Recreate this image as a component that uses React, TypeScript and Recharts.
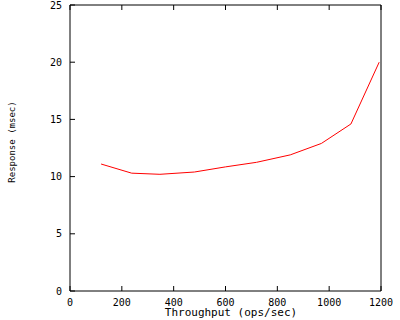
import { LineChart, Line, XAxis, YAxis } from 'recharts';

// throughput (ops/sec) and response time (msec)
const throughput = [120, 238, 347, 480, 600, 720, 850, 970, 1084, 1193];
const response = [11.1, 10.3, 10.2, 10.4, 10.85, 11.25, 11.9, 12.9, 14.6, 20.0];
const xTicks = [0, 200, 400, 600, 800, 1000, 1200];
const yTicks = [0, 5, 10, 15, 20, 25];

const data = throughput.map((t, i) => ({ t, r: response[i] }));

const FONT = '"DejaVu Sans Mono", monospace';
const TICK = 5;

// gnuplot style: ticks point into the plot, labels sit outside
const BottomTick = (props: any) => {
  const { x, y, payload } = props;
  return (
    <g>
      <line x1={x} y1={y} x2={x} y2={y - TICK} stroke="#000" />
      <text x={x} y={y + 11} textAnchor="middle" dominantBaseline="central" fontFamily={FONT} fontSize={10} fill="#000">
        {payload.value}
      </text>
    </g>
  );
};

const TopTick = (props: any) => {
  const { x, y } = props;
  return <line x1={x} y1={y} x2={x} y2={y + TICK} stroke="#000" />;
};

const LeftTick = (props: any) => {
  const { x, y, payload } = props;
  return (
    <g>
      <line x1={x} y1={y} x2={x + TICK} y2={y} stroke="#000" />
      <text x={x - 8} y={y} textAnchor="end" dominantBaseline="central" fontFamily={FONT} fontSize={10} fill="#000">
        {payload.value}
      </text>
    </g>
  );
};

const RightTick = (props: any) => {
  const { x, y } = props;
  return <line x1={x} y1={y} x2={x - TICK} y2={y} stroke="#000" />;
};

export default function App() {
  return (
    <div style={{ position: 'absolute', left: 0, top: 0, width: 400, height: 320, background: '#fff' }}>
      <LineChart width={400} height={320} data={data} margin={{ top: 4, right: 18, bottom: 1, left: 10 }}>
        <XAxis
          xAxisId="b"
          dataKey="t"
          type="number"
          domain={[0, 1200]}
          ticks={xTicks}
          height={28}
          tickSize={0}
          tickMargin={0}
          tickLine={false}
          axisLine={{ stroke: '#000' }}
          tick={<BottomTick />}
          interval={0}
        />
        <XAxis
          xAxisId="t"
          orientation="top"
          dataKey="t"
          type="number"
          domain={[0, 1200]}
          ticks={xTicks}
          height={1}
          tickSize={0}
          tickMargin={0}
          tickLine={false}
          axisLine={{ stroke: '#000' }}
          tick={<TopTick />}
          interval={0}
        />
        <YAxis
          yAxisId="l"
          type="number"
          domain={[0, 25]}
          ticks={yTicks}
          width={60}
          tickSize={0}
          tickMargin={0}
          tickLine={false}
          axisLine={{ stroke: '#000' }}
          tick={<LeftTick />}
          interval={0}
        />
        <YAxis
          yAxisId="r"
          orientation="right"
          type="number"
          domain={[0, 25]}
          ticks={yTicks}
          width={1}
          tickSize={0}
          tickMargin={0}
          tickLine={false}
          axisLine={{ stroke: '#000' }}
          tick={<RightTick />}
          interval={0}
        />
        <Line
          xAxisId="b"
          yAxisId="l"
          dataKey="r"
          type="linear"
          stroke="#ff0000"
          strokeWidth={1}
          dot={false}
          isAnimationActive={false}
        />
      </LineChart>
      <div
        style={{
          position: 'absolute',
          left: 0,
          top: 307,
          width: 462,
          textAlign: 'center',
          fontFamily: FONT,
          fontSize: 11,
          lineHeight: '12px',
          color: '#000',
        }}
      >
        Throughput (ops/sec)
      </div>
      <div
        style={{
          position: 'absolute',
          left: 12,
          top: 142,
          transform: 'translate(-50%, -50%) rotate(-90deg)',
          whiteSpace: 'nowrap',
          fontFamily: FONT,
          fontSize: 9,
          lineHeight: '10px',
          color: '#000',
        }}
      >
        Response (msec)
      </div>
    </div>
  );
}
